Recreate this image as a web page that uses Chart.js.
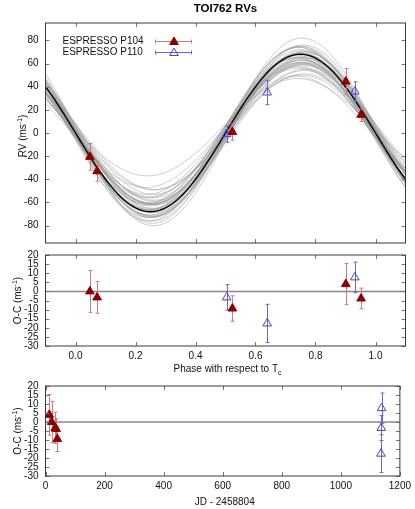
<!DOCTYPE html>
<html>
<head>
<meta charset="utf-8">
<script src="https://cdn.jsdelivr.net/npm/chart.js@4.4.1/dist/chart.umd.min.js"></script>
<style>
  html, body { margin: 0; padding: 0; background: #fff; }
  #wrap { position: relative; width: 415px; height: 509px; }
  canvas { position: absolute; left: 0; top: 0; }
</style>
</head>
<body>
<div id="wrap">
  <canvas id="rv" width="415" height="509"></canvas>
  <canvas id="ocPhase" width="415" height="509"></canvas>
  <canvas id="ocTime" width="415" height="509"></canvas>
</div>
<script>
// ESPRESSO P104 (phase, RV, error, O-C, JD - 2458804)
const p104Phase = [0.048, 0.072, 0.523, 0.901, 0.952];
const p104Rv    = [-20.6, -33.0, 0.9, 44.4, 15.7];
const p104Err   = [11.5, 8.7, 7.0, 11.3, 5.7];
const p104Oc    = [0.0, -3.3, -9.4, 4.0, -3.9];
const p104Time  = [21, 33, 40, 13, 36];

// ESPRESSO P110
const p110Phase = [0.504, 0.639, 0.931];
const p110Rv    = [-1.0, 35.0, 35.8];
const p110Err   = [7.0, 10.5, 8.4];
const p110Oc    = [-3.3, -17.6, 7.7];
const p110Time  = [1137, 1136, 1138];

// best fit keplerian (circular) and posterior draws: semi-amplitude, offset, phase shift
const bestK = 68, bestGamma = 0, bestShift = 0;
const drawK     = [80, 42, 78, 66, 70, 62, 58, 73, 68, 64, 60, 55, 71, 67, 63, 59, 52, 75, 69, 65,
                   61, 57, 48, 72, 66, 62, 70, 64, 56, 68, 74, 60, 53, 67, 63, 71, 58, 65, 69, 50];
const drawGamma = [2, 5, -2, 3, -3, 1, -4, 2, 0, 4, -1, 2, -2, 5, -3, 1, 3, -1, 2, -2,
                   0, 4, 1, -4, -1, 3, 4, -5, 0, 2, 1, -2, -3, -4, 2, -1, 3, 0, -3, 1];
const drawShift = [0.005, -0.01, 0.01, 0, -0.008, 0.006, 0.012, -0.004, 0.003, -0.006,
                   0.008, -0.012, 0.004, 0.002, -0.003, 0.01, 0.015, -0.006, 0.007, -0.002,
                   0.001, 0.009, -0.015, 0.004, -0.01, 0.011, -0.005, 0.006, -0.008, 0.013,
                   0.002, -0.007, 0.005, 0.003, -0.012, 0.008, -0.004, 0.006, 0.002, 0.01];

const phaseTicks = [0.0, 0.2, 0.4, 0.6, 0.8, 1.0];
const rvTicks    = [-80, -60, -40, -20, 0, 20, 40, 60, 80];
const ocTicks    = [-30, -25, -20, -15, -10, -5, 0, 5, 10, 15, 20];
const timeTicks  = [0, 200, 400, 600, 800, 1000, 1200];

const FONT = '"Liberation Sans", Arial, sans-serif';
const RED = '#8b0000', RED_BAR = '#d27878';
const BLUE = '#4646c8', BLUE_BAR = '#6666d4';

function keplerCurve(K, gamma, shift) {
  const pts = [];
  for (let i = 0; i <= 120; i++) {
    const ph = -0.1 + i * 0.01;
    pts.push({ x: ph, y: gamma - K * Math.sin(2 * Math.PI * (ph - shift)) });
  }
  return pts;
}

function pts(xs, ys) {
  return xs.map((x, i) => ({ x: x, y: ys[i] }));
}

function pointSet(label, xs, ys, errs, filled) {
  return {
    label: label,
    data: pts(xs, ys),
    errors: errs,
    errColor: filled ? RED_BAR : BLUE_BAR,
    pointStyle: 'triangle',
    pointRadius: 5,
    borderWidth: 1,
    borderColor: filled ? RED : BLUE,
    backgroundColor: filled ? RED : 'rgba(0,0,0,0)',
    showLine: false,
    order: 0
  };
}

// error bars, drawn just before the points of the same dataset
const errorBars = {
  id: 'errorBars',
  beforeDatasetDraw(chart, args) {
    const ds = chart.data.datasets[args.index];
    if (!ds.errors) return;
    const ctx = chart.ctx, ys = chart.scales.y;
    ctx.save();
    ctx.strokeStyle = ds.errColor;
    ctx.lineWidth = 1;
    args.meta.data.forEach((el, i) => {
      const v = ds.data[i].y, e = ds.errors[i];
      const x = Math.round(el.x) + 0.5;
      const top = ys.getPixelForValue(v + e), bot = ys.getPixelForValue(v - e);
      ctx.beginPath();
      ctx.moveTo(x, top); ctx.lineTo(x, bot);
      ctx.moveTo(x - 2, top); ctx.lineTo(x + 2, top);
      ctx.moveTo(x - 2, bot); ctx.lineTo(x + 2, bot);
      ctx.stroke();
    });
    ctx.restore();
  }
};

// gnuplot style box with inward ticks on all four sides
const frame = {
  id: 'frame',
  afterDatasetsDraw(chart) {
    const ctx = chart.ctx, a = chart.chartArea;
    const xs = chart.scales.x, ys = chart.scales.y;
    ctx.save();
    ctx.strokeStyle = '#777';
    ctx.lineWidth = 1;
    ctx.beginPath();
    xs.ticks.forEach(t => {
      const px = Math.round(xs.getPixelForValue(t.value)) + 0.5;
      ctx.moveTo(px, a.bottom); ctx.lineTo(px, a.bottom - 4);
      ctx.moveTo(px, a.top); ctx.lineTo(px, a.top + 4);
    });
    ys.ticks.forEach(t => {
      const py = Math.round(ys.getPixelForValue(t.value)) + 0.5;
      ctx.moveTo(a.left, py); ctx.lineTo(a.left + 4, py);
      ctx.moveTo(a.right, py); ctx.lineTo(a.right - 4, py);
    });
    ctx.stroke();
    ctx.strokeStyle = '#3a3a3a';
    ctx.strokeRect(a.left, a.top, a.right - a.left, a.bottom - a.top);
    ctx.restore();
  }
};

function drawRich(ctx, segs, x, y, rotate) {
  ctx.save();
  ctx.translate(x, y);
  if (rotate) ctx.rotate(-Math.PI / 2);
  ctx.fillStyle = '#111';
  ctx.textBaseline = 'alphabetic';
  ctx.textAlign = 'left';
  const fontOf = s => (s.sup || s.sub ? '7px ' : '10px ') + FONT;
  let total = 0;
  segs.forEach(s => { ctx.font = fontOf(s); total += ctx.measureText(s.t).width; });
  let cx = -total / 2;
  segs.forEach(s => {
    ctx.font = fontOf(s);
    ctx.fillText(s.t, cx, s.sup ? -4 : (s.sub ? 2.5 : 0));
    cx += ctx.measureText(s.t).width;
  });
  ctx.restore();
}

const axisTitles = {
  id: 'axisTitles',
  afterDraw(chart, args, opts) {
    const ctx = chart.ctx, a = chart.chartArea;
    if (opts.y) drawRich(ctx, opts.y, opts.yX, (a.top + a.bottom) / 2 + (opts.yShift || 0), true);
    if (opts.x) drawRich(ctx, opts.x, (a.left + a.right) / 2 + 2, opts.xY, false);
    if (opts.title) {
      ctx.save();
      ctx.font = 'bold 11.5px ' + FONT;
      ctx.fillStyle = '#000';
      ctx.textAlign = 'center';
      ctx.fillText(opts.title, (a.left + a.right) / 2, 11.5);
      ctx.restore();
    }
  }
};

const rvLegend = {
  id: 'rvLegend',
  afterDraw(chart) {
    const ctx = chart.ctx;
    const rows = chart.data.datasets.filter(d => d.errors);
    ctx.save();
    rows.forEach((d, i) => {
      const yc = 41 + i * 11;
      ctx.font = '10px ' + FONT;
      ctx.fillStyle = '#111';
      ctx.textBaseline = 'middle';
      ctx.textAlign = 'left';
      ctx.fillText(d.label, 62.5, yc + 0.5);
      ctx.strokeStyle = d.errColor;
      ctx.lineWidth = 1;
      ctx.beginPath();
      ctx.moveTo(155, yc + 0.5); ctx.lineTo(192, yc + 0.5);
      ctx.moveTo(155.5, yc - 1.5); ctx.lineTo(155.5, yc + 2.5);
      ctx.moveTo(191.5, yc - 1.5); ctx.lineTo(191.5, yc + 2.5);
      ctx.stroke();
      const r = 5, cx = 174;
      ctx.beginPath();
      ctx.moveTo(cx, yc - r + 1);
      ctx.lineTo(cx + r * 0.866, yc + r / 2 + 1);
      ctx.lineTo(cx - r * 0.866, yc + r / 2 + 1);
      ctx.closePath();
      ctx.strokeStyle = d.borderColor;
      if (d.backgroundColor !== 'rgba(0,0,0,0)') { ctx.fillStyle = d.backgroundColor; ctx.fill(); }
      ctx.stroke();
    });
    ctx.restore();
  }
};

function baseOptions(padding, xMin, xMax, xTickVals, xHeight, showXLabels, yMin, yMax, yTickVals, titles) {
  return {
    responsive: false,
    animation: false,
    devicePixelRatio: 1,
    layout: { padding: padding },
    scales: {
      x: {
        type: 'linear', min: xMin, max: xMax,
        afterBuildTicks: s => { s.ticks = xTickVals.map(v => ({ value: v })); },
        afterFit: s => { s.height = xHeight; },
        grid: { display: false, drawTicks: false },
        border: { display: false },
        ticks: {
          display: showXLabels, autoSkip: false, maxRotation: 0, padding: 4,
          color: '#111', font: { family: FONT, size: 10 },
          callback: v => (xMax < 5 ? Number(v).toFixed(1) : String(v))
        }
      },
      y: {
        type: 'linear', min: yMin, max: yMax,
        afterBuildTicks: s => { s.ticks = yTickVals.map(v => ({ value: v })); },
        afterFit: s => { s.width = 45.5; },
        grid: { display: false, drawTicks: false },
        border: { display: false },
        ticks: {
          autoSkip: false, padding: 7, color: '#111',
          font: { family: FONT, size: 10 },
          callback: v => String(v)
        }
      }
    },
    plugins: {
      legend: { display: false },
      tooltip: { enabled: false },
      axisTitles: titles
    }
  };
}

const ocLabel = [{ t: 'O-C (ms' }, { t: '-1', sup: true }, { t: ')' }];

// top panel: RV versus phase
const rvSets = [
  pointSet('ESPRESSO P104', p104Phase, p104Rv, p104Err, true),
  pointSet('ESPRESSO P110', p110Phase, p110Rv, p110Err, false),
  { data: keplerCurve(bestK, bestGamma, bestShift), showLine: true, pointRadius: 0,
    borderColor: '#000', borderWidth: 1.4, order: 1 }
];
drawK.forEach((k, i) => {
  rvSets.push({ data: keplerCurve(k, drawGamma[i], drawShift[i]), showLine: true, pointRadius: 0,
    borderColor: 'rgba(150,150,150,0.6)', borderWidth: 0.8, order: 2 });
});

new Chart(document.getElementById('rv'), {
  type: 'scatter',
  data: { datasets: rvSets },
  options: baseOptions({ top: 23, right: 9.5, bottom: 256, left: 0 }, -0.1, 1.1, phaseTicks, 10, false,
    -95, 95, rvTicks,
    { title: 'TOI762 RVs', y: [{ t: 'RV (ms' }, { t: '-1', sup: true }, { t: ')' }], yX: 26, yShift: 3 }),
  plugins: [errorBars, frame, rvLegend, axisTitles]
});

// middle panel: residuals versus phase
new Chart(document.getElementById('ocPhase'), {
  type: 'scatter',
  data: { datasets: [
    pointSet('ESPRESSO P104', p104Phase, p104Oc, p104Err, true),
    pointSet('ESPRESSO P110', p110Phase, p110Oc, p110Err, false),
    { data: pts([-0.1, 1.1], [0, 0]), showLine: true, pointRadius: 0, borderColor: '#888', borderWidth: 1.5, order: 1 }
  ] },
  options: baseOptions({ top: 255, right: 9.5, bottom: 123, left: 0 }, -0.1, 1.1, phaseTicks, 40, true,
    -30, 20, ocTicks,
    { y: ocLabel, yX: 21, x: [{ t: 'Phase with respect to T' }, { t: 'c', sub: true }], xY: 372 }),
  plugins: [errorBars, frame, axisTitles]
});

// bottom panel: residuals versus time
new Chart(document.getElementById('ocTime'), {
  type: 'scatter',
  data: { datasets: [
    pointSet('ESPRESSO P104', p104Time, p104Oc, p104Err, true),
    pointSet('ESPRESSO P110', p110Time, p110Oc, p110Err, false),
    { data: pts([0, 1200], [0, 0]), showLine: true, pointRadius: 0, borderColor: '#888', borderWidth: 1.5, order: 1 }
  ] },
  options: baseOptions({ top: 386, right: 9.5, bottom: 3, left: 0 }, 0, 1200, timeTicks, 30, true,
    -30, 20, ocTicks,
    { y: ocLabel, yX: 21, x: [{ t: 'JD - 2458804' }], xY: 505 }),
  plugins: [errorBars, frame, axisTitles]
});
</script>
</body>
</html>
